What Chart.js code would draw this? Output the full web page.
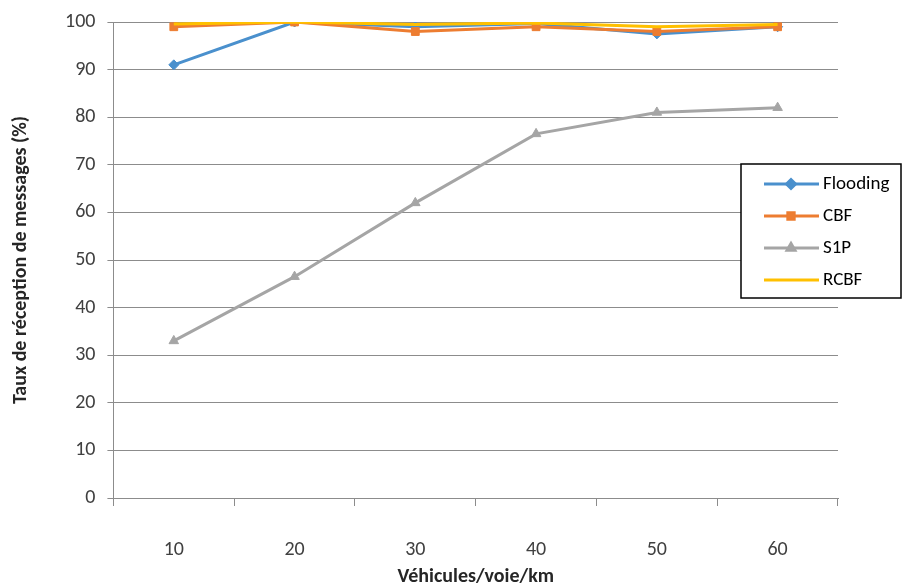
<!DOCTYPE html>
<html>
<head>
<meta charset="utf-8">
<script src="https://cdn.jsdelivr.net/npm/chart.js"></script>
<style>
  html, body { margin: 0; padding: 0; background: #fff; }
  #wrap { width: 903px; height: 585px; position: relative; }
</style>
</head>
<body>
<div id="wrap"><canvas id="myChart"></canvas></div>
<script>
const categories = ['10', '20', '30', '40', '50', '60'];
const flooding = [91, 100, 99, 99.7, 97.5, 99];
const cbf = [99, 100, 98, 99, 98, 99];
const s1p = [33, 46.5, 62, 76.5, 81, 82];
const rcbf = [99.6, 100, 99.5, 99.8, 99, 99.5];
const yTicks = [0, 10, 20, 30, 40, 50, 60, 70, 80, 90, 100];

const FONT = 'Carlito, "Liberation Sans Narrow", Lato, sans-serif';

// legend box drawn over the right side of the plot
const boxLegend = {
  id: 'boxLegend',
  afterDraw(chart) {
    const ctx = chart.ctx;
    const x = 741, y = 164, w = 160, h = 134;
    ctx.save();
    ctx.fillStyle = '#fff';
    ctx.fillRect(x, y, w, h);
    ctx.strokeStyle = '#000';
    ctx.lineWidth = 1.5;
    ctx.strokeRect(x, y, w, h);
    chart.data.datasets.forEach((ds, i) => {
      const cy = y + 20 + i * 32;
      ctx.strokeStyle = ds.borderColor;
      ctx.lineWidth = 3;
      ctx.beginPath();
      ctx.moveTo(x + 23, cy);
      ctx.lineTo(x + 78, cy);
      ctx.stroke();
      if (ds.pointStyle) {
        Chart.helpers.drawPoint(ctx, {
          pointStyle: ds.pointStyle, radius: 4.5, borderWidth: 1
        }, x + 50, cy);
        ctx.fillStyle = ds.borderColor;
        ctx.fill();
      }
      ctx.fillStyle = '#000';
      ctx.font = '19px ' + FONT;
      ctx.textBaseline = 'middle';
      ctx.fillText(ds.label, x + 82, cy);
    });
    ctx.restore();
  }
};

new Chart(document.getElementById('myChart'), {
  type: 'line',
  data: {
    labels: categories,
    datasets: [
      { label: 'Flooding', data: flooding, borderColor: '#4A90CD', backgroundColor: '#4A90CD', pointStyle: 'rectRot', pointRadius: 5, order: 2 },
      { label: 'CBF', data: cbf, borderColor: '#ED7D31', backgroundColor: '#ED7D31', pointStyle: 'rect', pointRadius: 5.5, order: 1 },
      { label: 'S1P', data: s1p, borderColor: '#A5A5A5', backgroundColor: '#A5A5A5', pointStyle: 'triangle', pointRadius: 5.5, order: 3 },
      { label: 'RCBF', data: rcbf, borderColor: '#FFC000', backgroundColor: '#FFC000', pointStyle: false, pointRadius: 0, order: 0 }
    ]
  },
  options: {
    responsive: true,
    maintainAspectRatio: false,
    animation: false,
    elements: { line: { borderWidth: 3, tension: 0 }, point: { borderWidth: 1 } },
    layout: { padding: { left: 5, right: 65, top: 8, bottom: 0 } },
    plugins: { legend: { display: false }, tooltip: { enabled: false } },
    scales: {
      x: {
        offset: true,
        grid: { offset: true, drawOnChartArea: false, tickLength: 8, color: '#8c8c8c' },
        border: { color: '#8c8c8c' },
        ticks: { font: { family: FONT, size: 20 }, color: '#404040', padding: 32 },
        title: { display: true, text: 'Véhicules/voie/km', font: { family: FONT, size: 20, weight: 'bold' }, color: '#262626', padding: { top: -29, bottom: -4 } }
      },
      y: {
        min: 0, max: 100,
        afterBuildTicks: axis => { axis.ticks = yTicks.map(v => ({ value: v })); },
        grid: { color: '#8c8c8c', tickLength: 6 },
        border: { color: '#8c8c8c' },
        ticks: { font: { family: FONT, size: 20, lineHeight: 1 }, color: '#404040', padding: 12 },
        title: { display: true, text: 'Taux de réception de messages (%)', font: { family: FONT, size: 20, weight: 'bold' }, color: '#262626', padding: { bottom: 20 } }
      }
    }
  },
  plugins: [boxLegend]
});
</script>
</body>
</html>
